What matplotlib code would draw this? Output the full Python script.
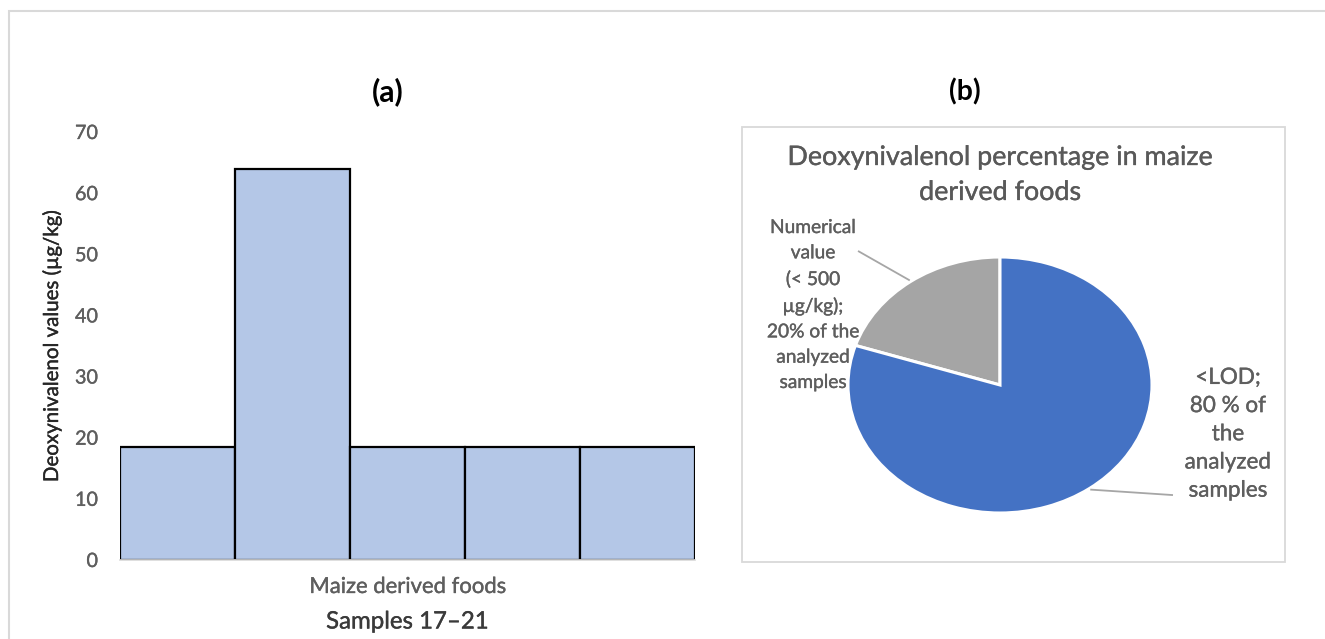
import matplotlib
matplotlib.use("Agg")
import matplotlib.pyplot as plt
import matplotlib.patheffects as pe
from matplotlib.patches import Rectangle
import numpy as np

# ---- data -------------------------------------------------------------
sample_ids = ["17", "18", "19", "20", "21"]
don_values = [18.5, 64.0, 18.5, 18.5, 18.5]          # µg/kg
y_ticks = [0, 10, 20, 30, 40, 50, 60, 70]
group_label = "Maize derived foods"
bar_xlabel = "Samples 17\u201321"
bar_ylabel = "Deoxynivalenol values (\u00b5g/kg)"

pie_shares = [20, 80]                                  # % of analysed samples
pie_labels = [
    "Numerical\nvalue\n(< 500\n\u00b5g/kg);\n20% of the\nanalyzed\nsamples",
    "<LOD;\n80 % of\nthe\nanalyzed\nsamples",
]
pie_title = "Deoxynivalenol percentage in maize\nderived foods"
panel_tags = ["(a)", "(b)"]

# ---- style --------------------------------------------------------------
FONT = "Lato"
plt.rcParams["font.family"] = [FONT, "DejaVu Sans"]
W, H = 1325, 639
BAR_FILL = "#B4C7E7"
PIE_COLORS = ["#A5A5A5", "#4472C4"]
GREY_TXT = "#5E5E5E"
FRAME = "#D9D9D9"

fig = plt.figure(figsize=(W / 100, H / 100), dpi=100)
fig.patch.set_facecolor("white")


def fx(x):
    return x / W


def fy(y):
    return 1 - y / H


def renderer():
    fig.canvas.draw()
    return fig.canvas.get_renderer()


def extent(artist):
    return artist.get_window_extent(renderer())


def fit_width(artist, target, vertical=False):
    bb = extent(artist)
    cur = bb.height if vertical else bb.width
    artist.set_fontsize(artist.get_fontsize() * target / cur)


def set_pitch(artist, pitch):
    r = renderer()
    prop = artist.get_fontproperties()
    _, h, d = r.get_text_width_height_descent("lp", prop, ismath=False)
    artist.set_linespacing(pitch / (h - d))


def heavier(artist, width=0.25):
    artist.set_path_effects([pe.withStroke(linewidth=width,
                                           foreground=artist.get_color())])


# outer frame (open on the right) and the frame round the pie panel
fig.add_artist(Rectangle((fx(9), fy(660)), fx(1345) - fx(9), fy(11) - fy(660),
                         transform=fig.transFigure, fill=False,
                         edgecolor=FRAME, lw=1.5))
fig.add_artist(Rectangle((fx(742), fy(562)), fx(1285) - fx(742), fy(127) - fy(562),
                         transform=fig.transFigure, fill=False,
                         edgecolor=FRAME, lw=1.3))

# ---- (a) bar chart ------------------------------------------------------
ax = fig.add_axes([fx(120), fy(560), fx(695) - fx(120), fy(132) - fy(560)])
pos = np.arange(len(don_values))
ax.bar(pos, don_values, width=1.0, color=BAR_FILL, edgecolor="black",
       linewidth=1.6, zorder=2)
ax.set_xlim(-0.5, len(don_values) - 0.5)
ax.set_ylim(0, 70)
ax.set_yticks(y_ticks)
ax.set_xticks([pos.mean()], [group_label])
for s in ("top", "right", "left"):
    ax.spines[s].set_visible(False)
ax.spines["bottom"].set_color(FRAME)
ax.spines["bottom"].set_linewidth(1.2)
ax.spines["bottom"].set_zorder(3)
ax.tick_params(axis="both", length=0, colors=GREY_TXT)
ax.tick_params(axis="y", pad=22 * 0.72, labelsize=14)
ax.tick_params(axis="x", pad=10, labelsize=14)

# y tick label size from the width of "70"
w70 = extent(ax.get_yticklabels()[-1]).width
ax.tick_params(axis="y", labelsize=14 * 23 / w70)

# x tick label size and vertical place
wx = extent(ax.get_xticklabels()[0]).width
ax.tick_params(axis="x", labelsize=14 * 198 / wx)
bb = extent(ax.get_xticklabels()[0])
cy = (bb.y0 + bb.y1) / 2
ax.tick_params(axis="x", pad=10 + (cy - (H - 587)) * 0.72)
for t in ax.get_yticklabels() + ax.get_xticklabels():
    heavier(t)

xlab = ax.set_xlabel(bar_xlabel, color="#3A3A3A", fontsize=16, labelpad=8)
fit_width(xlab, 163)
bb = extent(xlab)
ax.xaxis.labelpad = 8 + ((bb.y0 + bb.y1) / 2 - (H - 622)) * 0.72
heavier(xlab)

ylab = ax.set_ylabel(bar_ylabel, color="#262626", fontsize=16, labelpad=10)
fit_width(ylab, 273, vertical=True)
bb = extent(ylab)
ax.yaxis.labelpad = 10 + ((bb.x0 + bb.x1) / 2 - 52) * 0.72
heavier(ylab)

# ---- (b) pie chart ------------------------------------------------------
cx, cyp, rx, ry = 1000, 385, 152, 128
pax = fig.add_axes([fx(cx - rx), fy(cyp + ry), 2 * rx / W, 2 * ry / H])
wedges, _ = pax.pie(pie_shares, colors=PIE_COLORS, startangle=90,
                    counterclock=True, radius=1.0,
                    wedgeprops=dict(edgecolor="white", linewidth=2.2))
pax.set_aspect("auto")
pax.set_xlim(-1, 1)
pax.set_ylim(-1, 1)
pax.axis("off")

label_pos = [(-1.23, 0.625), (1.50, -0.385)]
leader_end = [(-0.934, 1.047), (1.138, -0.86)]
label_width = [92, 86]
label_pitch = [22.3, 24.2]
for w, txt, (lx, ly), (ex, ey), tw, pitch in zip(
        wedges, pie_labels, label_pos, leader_end, label_width, label_pitch):
    mid = np.deg2rad((w.theta1 + w.theta2) / 2)
    px, py = np.cos(mid) * 1.01, np.sin(mid) * 1.01
    pax.plot([px, ex], [py, ey], color="#A6A6A6", lw=1.3, clip_on=False,
             solid_capstyle="butt")
    t = pax.text(lx, ly, txt, ha="center", va="center", multialignment="center",
                 color=GREY_TXT, fontsize=13, clip_on=False)
    fit_width(t, tw)
    set_pitch(t, pitch)
    heavier(t)

title = fig.text(fx(1000), fy(175), pie_title, ha="center", va="center",
                 multialignment="center", color="#595959", fontsize=17)
fit_width(title, 425)
set_pitch(title, 30)
heavier(title)

# panel tags
for tag, x in zip(panel_tags, (388, 965)):
    t = fig.text(fx(x), fy(92), tag, ha="center", va="center",
                 fontweight="bold", color="black", fontsize=14)
    fit_width(t, 32)

fig.savefig("out.png", dpi=100, facecolor="white")
